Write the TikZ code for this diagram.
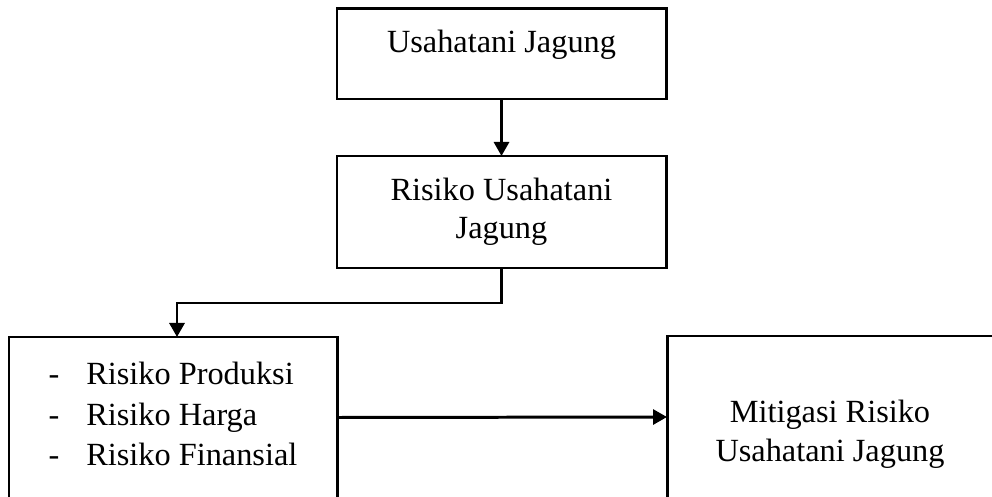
\documentclass[tikz,border=0pt]{standalone}
\usepackage{fontspec}
\setmainfont{Liberation Serif}
\usetikzlibrary{arrows.meta}

\begin{document}
\begin{tikzpicture}[kotak/.style={draw, line width=1.7pt, minimum width=6.58cm, outer sep=0pt, align=center, font=\fontsize{18.4}{21.8}\selectfont}, panah/.style={line width=1.7pt, -{Triangle[length=0.28cm, width=0.3cm]}}]
\clip (0,0) rectangle (19.84,-9.94);

\node[kotak, minimum height=1.8cm, text depth=0.52cm] (usahatani) at (10.03,-1.08) {Usahatani Jagung};
\node[kotak, minimum height=2.24cm] (risiko) at (10.03,-4.24) {Risiko Usahatani\\Jagung};

\node[kotak, minimum width=6.56cm, minimum height=3.22cm] (jenis) at (3.46,-8.35) {\begin{tabular}{@{}l@{\hspace{15.3pt}}l@{}}
-&Risiko Produksi\\[1.2pt]
-&Risiko Harga\\[1.2pt]
-&Risiko Finansial
\end{tabular}};
\node[kotak, minimum width=6.52cm, minimum height=3.24cm, text height=1.9cm] (mitigasi) at (16.60,-8.34) {Mitigasi Risiko\\Usahatani Jagung};

\draw[panah] (usahatani) -- (risiko);
\draw[panah] (risiko.south) -- ++(0,-0.7) -| ([xshift=0.08cm]jenis.north);
\draw[panah] (jenis.east) -- (mitigasi.west);
\end{tikzpicture}
\end{document}
